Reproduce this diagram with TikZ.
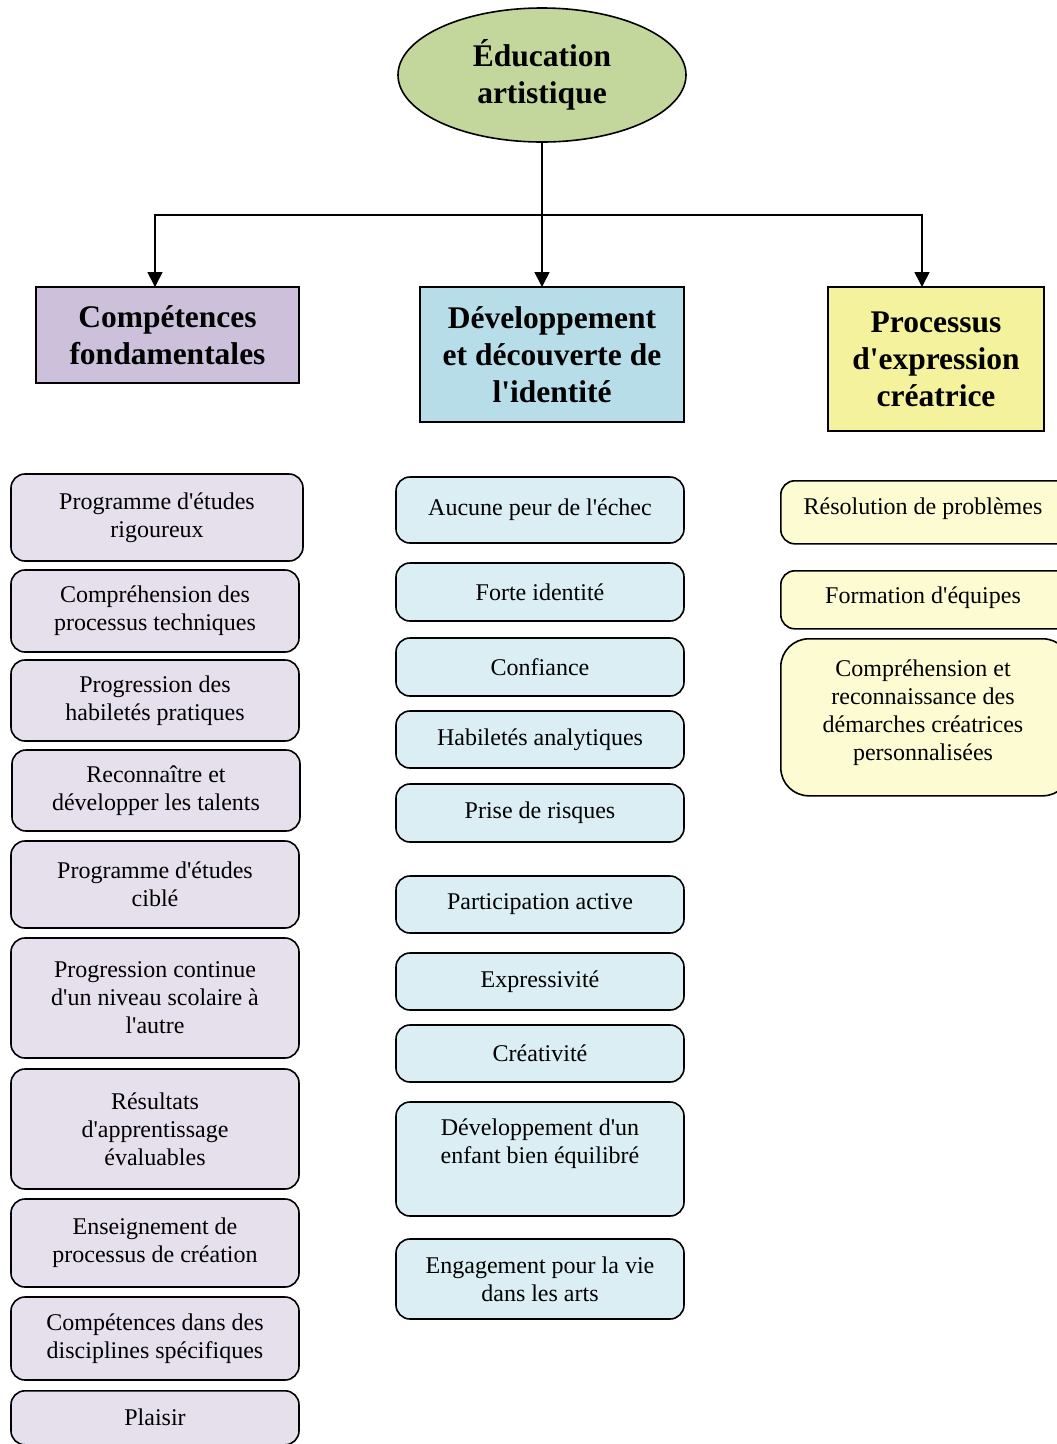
\documentclass[tikz,border=0pt]{standalone}
\usepackage{fontspec}
\setmainfont{Liberation Serif}[Ligatures=TeXOff]
\usetikzlibrary{arrows.meta,shapes.geometric}

\definecolor{rootgreen}{HTML}{C3D69B}
\definecolor{headpurple}{HTML}{CCC0DA}
\definecolor{headblue}{HTML}{B7DEE8}
\definecolor{headyellow}{HTML}{F4F29C}
\definecolor{itempurple}{HTML}{E5E0EC}
\definecolor{itemblue}{HTML}{DAEEF3}
\definecolor{itemyellow}{HTML}{FDFBD2}

% box placed by its corners: style, name, x1, y1, x2, y2, text
\newcommand\putbox[7]{%
  \node[#1, minimum width={(#5-#3)*1pt}, minimum height={(#6-#4)*1pt}]
    (#2) at ({(#3+#5)/2},{(#4+#6)/2}) {#7};}

\begin{document}
\begin{tikzpicture}[x=1pt,y=-1pt,
  root/.style={ellipse, draw, line width=1.6pt, fill=rootgreen, align=center,
    inner sep=0pt, outer sep=0pt, font=\fontsize{31.5}{37}\selectfont\bfseries},
  head/.style={rectangle, draw, line width=1.8pt, align=center, inner sep=0pt,
    outer sep=0pt, font=\fontsize{31.5}{37}\selectfont\bfseries},
  item/.style={rectangle, draw, line width=1.6pt, rounded corners=14pt,
    align=center, inner sep=0pt, font=\fontsize{24}{28}\selectfont},
  pitem/.style={item, fill=itempurple},
  bitem/.style={item, fill=itemblue},
  yitem/.style={item, fill=itemyellow},
  label/.style={font=\fontsize{24}{28}\selectfont, align=center},
  conn/.style={line width=1.6pt},
  arr/.style={conn, -{Triangle[length=15pt,width=15pt]}}]

\useasboundingbox (0,0) rectangle (1057,1444);
\clip (0,0) rectangle (1057,1444);
\fill[white] (0,0) rectangle (1057,1444);

% root and the three themes
\node[root, minimum width=288pt, minimum height=134pt] (edu) at (542,75)
  {Éducation\\artistique};
\putbox{head, fill=headpurple}{comp}{36}{287}{299}{383}{Compétences\\fondamentales}
\putbox{head, fill=headblue}{dev}{420}{287}{684}{422}{Développement\\et découverte de\\l'identité}
\putbox{head, fill=headyellow}{proc}{828}{287}{1044}{431}{Processus\\d'expression\\créatrice}

% connectors
\coordinate (hub) at (542,215);
\draw[conn] (edu.south) -- (hub);
\draw[arr] (hub) -| ([xshift=119pt]comp.north west);
\draw[arr] (hub) -- ([xshift=122pt]dev.north west);
\draw[arr] (hub) -| ([xshift=94pt]proc.north west);

% left column
\putbox{pitem}{c1}{11}{474}{303}{561}{Programme d'études\\rigoureux}
\putbox{pitem}{c2}{11}{570}{299}{652}{Compréhension des\\processus techniques}
\putbox{pitem}{c3}{11}{660}{299}{741}{Progression des\\habiletés pratiques}
\putbox{pitem}{c4}{12}{750}{300}{831}{Reconnaître et\\développer les talents}
\putbox{pitem}{c5}{11}{841}{299}{928}{Programme d'études\\ciblé}
\putbox{pitem}{c6}{11}{938}{299}{1058}{Progression continue\\d'un niveau scolaire à\\l'autre}
\putbox{pitem}{c7}{11}{1069}{299}{1189}{Résultats\\d'apprentissage\\évaluables}
\putbox{pitem}{c8}{11}{1199}{299}{1287}{Enseignement de\\processus de création}
\putbox{pitem}{c9}{11}{1297}{299}{1380}{Compétences dans des\\disciplines spécifiques}
\node[pitem, minimum width=288pt, minimum height=54pt, anchor=north] (c10) at (155,1390) {};
\node[label] (c10t) at (155,1417) {Plaisir};

% middle column
\putbox{bitem}{d1}{396}{477}{684}{543}{Aucune peur de l'échec}
\putbox{bitem}{d2}{396}{563}{684}{621}{Forte identité}
\putbox{bitem}{d3}{396}{638}{684}{696}{Confiance}
\putbox{bitem}{d4}{396}{711}{684}{768}{Habiletés analytiques}
\putbox{bitem}{d5}{396}{784}{684}{842}{Prise de risques}
\putbox{bitem}{d6}{396}{876}{684}{933}{Participation active}
\putbox{bitem}{d7}{396}{953}{684}{1010}{Expressivité}
\putbox{bitem}{d8}{396}{1025}{684}{1082}{Créativité}
\putbox{bitem}{d9}{396}{1102}{684}{1216}{Développement d'un\\enfant bien équilibré\\\strut}
\putbox{bitem}{d10}{396}{1239}{684}{1319}{Engagement pour la vie\\dans les arts}

% right column (runs past the right edge)
\node[yitem, minimum width=290pt, minimum height=63pt, anchor=north west] (p1) at (780,480) {};
\node[label] (p1t) at (923,509) {Résolution de problèmes};
\node[yitem, minimum width=290pt, minimum height=58pt, anchor=north west] (p2) at (780,570) {};
\node[label] (p2t) at (923,598) {Formation d'équipes};
\node[yitem, rounded corners=28pt, minimum width=290pt, minimum height=157pt, anchor=north west] (p3) at (780,638) {};
\node[label] (p3t) at (923,713)
  {Compréhension et\\reconnaissance des\\démarches créatrices\\personnalisées};

\end{tikzpicture}
\end{document}
